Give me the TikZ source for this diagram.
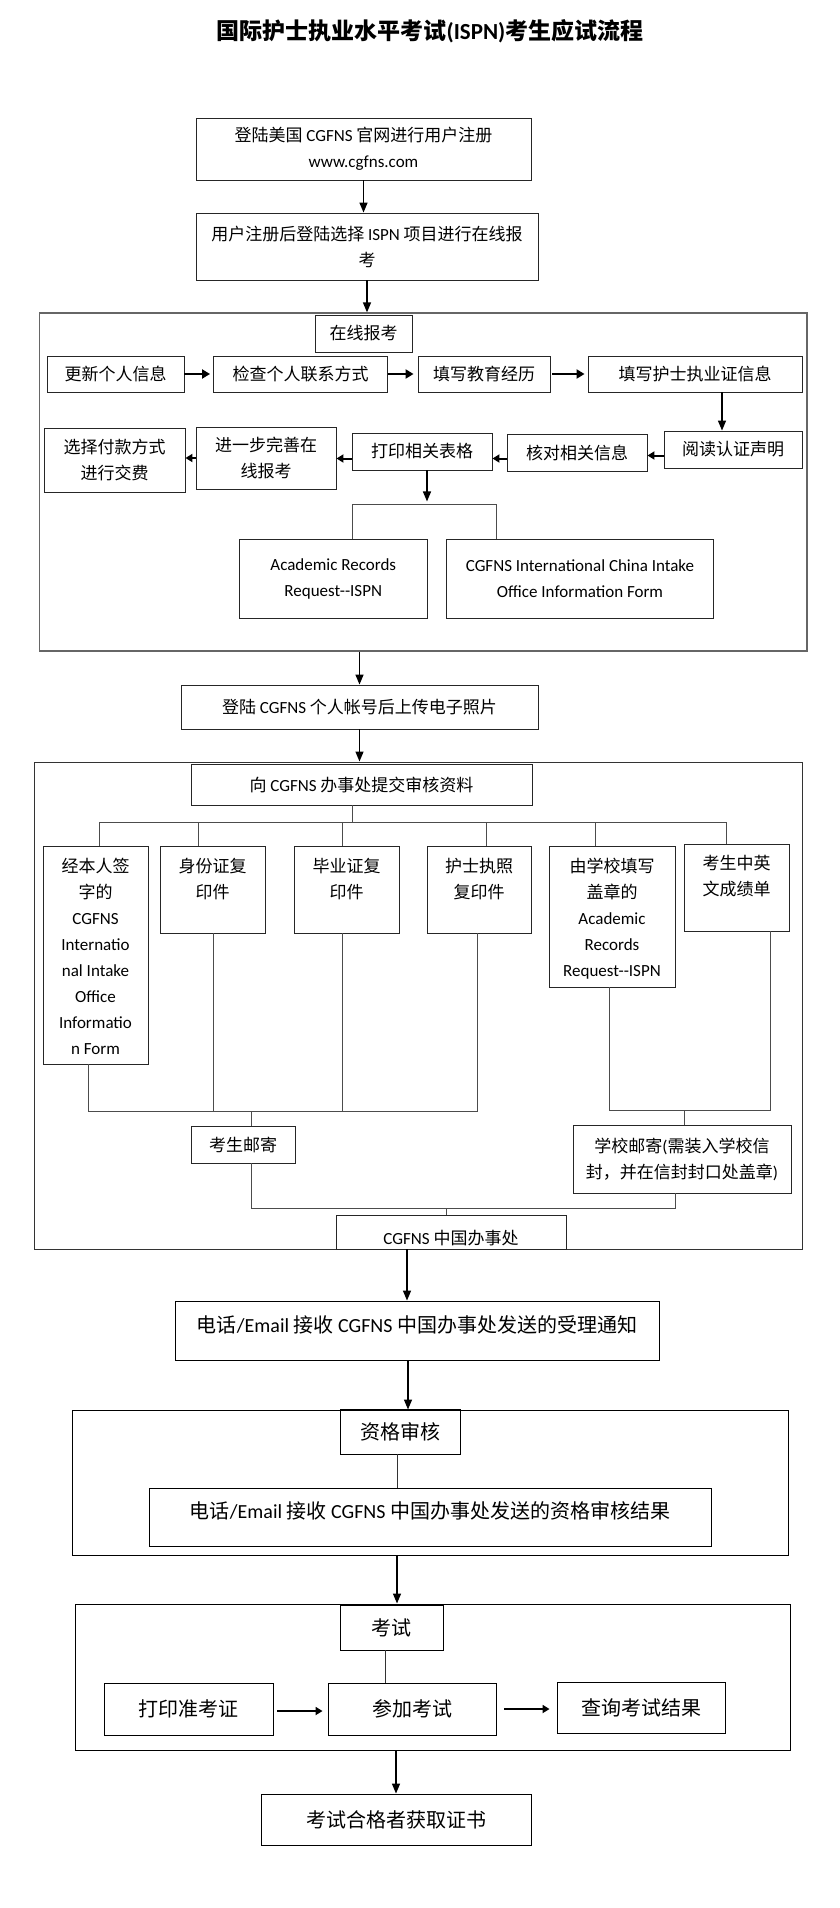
\documentclass[tikz,border=0pt]{standalone}
\usepackage{fontspec}
\setmainfont{Noto Sans CJK SC}
\newfontfamily\latf{Carlito}
\newcommand{\ct}[1]{{\latf #1}}
\usetikzlibrary{arrows.meta}
\tikzset{
  bx/.style={draw=black!85, line width=0.9pt, inner sep=0pt, align=center, font=\fontsize{17}{26}\selectfont},
  bbx/.style={bx, draw=black, font=\fontsize{20}{28}\selectfont},
  frm/.style={draw=black, line width=1pt, inner sep=0pt},
  lab/.style={inner sep=0pt, align=center, font=\fontsize{17}{26}\selectfont, anchor=north},
  arr/.style={draw=black, line width=1.4pt, -{Triangle[length=10pt,width=8pt]}},
  harr/.style={draw=black, line width=2.2pt, -{Triangle[length=8pt,width=9pt]}},
  marr/.style={draw=black, line width=2pt, -{Triangle[length=7pt,width=8pt]}},
  conn/.style={draw=black!70, line width=0.8pt},
}
\begin{document}
\begin{tikzpicture}[x=1pt,y=-1pt]
\useasboundingbox (0,0) rectangle (840,1908);
\fill[white] (0,0) rectangle (840,1908);

\node[font=\fontsize{23}{28}\selectfont\bfseries] (title) at (430,31) {国际护士执业水平考试\ct{(ISPN)}考生应试流程};

% top
\node[bx, minimum width=335, minimum height=62] (b1) at (363.5,149) {登陆美国 \ct{CGFNS} 官网进行用户注册\\\ct{www.cgfns.com}};
\node[bx, minimum width=342, minimum height=67] (b2) at (367,246.5) {用户注册后登陆选择 \ct{ISPN} 项目进行在线报\\考};
\draw[arr] (b1.south) -- (b1.south |- b2.north);

% frame A
\node[frm, draw=black!60, line width=1.2pt, minimum width=767.5, minimum height=338] (fA) at (423.25,482) {};
\draw[arr] (b2.south) -- (b2.south |- fA.north);
\node[bx, minimum width=97, minimum height=37] (hA) at (363.5,333.5) {在线报考};

\node[bx, minimum width=137, minimum height=36] (r1) at (115.5,374) {更新个人信息};
\node[bx, minimum width=174, minimum height=36] (r2) at (300.5,374) {检查个人联系方式};
\node[bx, minimum width=132, minimum height=36] (r3) at (484,374) {填写教育经历};
\node[bx, minimum width=214, minimum height=36] (r4) at (695,374) {填写护士执业证信息};
\draw[harr, shorten >=3pt] (r1.east) -- (r2.west);
\draw[harr, shorten >=4pt] (r2.east) -- (r3.west);
\draw[harr, shorten <=2pt, shorten >=3pt] (r3.east) -- (r4.west);

\node[bx, minimum width=138, minimum height=37] (r5) at (733,449.5) {阅读认证声明};
\node[bx, minimum width=140, minimum height=37] (r6) at (577,452.5) {核对相关信息};
\node[bx, minimum width=140, minimum height=37] (r7) at (422,451.5) {打印相关表格};
\node[bx, minimum width=140, minimum height=62] (r8) at (266,458) {进一步完善在\\线报考};
\node[bx, minimum width=141, minimum height=64] (r9) at (114.5,460) {选择付款方式\\进行交费};
\draw[arr] ([xshift=27pt]r4.south) -- ([xshift=27pt]r4.south |- r5.north);
\draw[marr] ([yshift=-3pt]r5.west |- r6.east) -- ([yshift=-3pt]r6.east);
\draw[marr] ([yshift=-6pt]r6.west) -- ([yshift=-6pt]r6.west -| r7.east);
\draw[marr] ([yshift=-7pt]r7.west) -- ([yshift=-7pt]r7.west -| r8.east);
\draw[marr] (r8.west) -- (r8.west -| r9.east);

\node[bx, minimum width=187.5, minimum height=79, font=\fontsize{17}{26}\latf] (a1) at (333.25,578.5) {Academic Records\\Request-\kern0pt-ISPN};
\node[bx, minimum width=267, minimum height=79, font=\fontsize{17}{26}\latf] (a2) at (580,578.5) {CGFNS International China Intake\\Office Information Form};
\draw[arr] ([xshift=5pt]r7.south) -- ++(0,31);
\draw[conn] ([xshift=19pt]a1.north) -- ++(0,-34) -| ([xshift=-84pt]a2.north);

% photo
\node[bx, minimum width=357, minimum height=44] (c1) at (359.5,707) {登陆 \ct{CGFNS} 个人帐号后上传电子照片};
\draw[arr] (c1.north |- fA.south) -- (c1.north);

% frame B
\node[frm, draw=black!80, minimum width=768, minimum height=487] (fB) at (418,1005.5) {};
\draw[arr] (c1.south) -- (c1.south |- fB.north);
\node[bx, minimum width=341, minimum height=41] (hB) at (361.5,784.5) {向 \ct{CGFNS} 办事处提交审核资料};

\node[bx, minimum width=105, minimum height=218, label={[lab, yshift=-12.5pt]north:{经本人签\\字的\\\ct{CGFNS}\\\ct{Internatio}\\\ct{nal Intake}\\\ct{Office}\\\ct{Informatio}\\\ct{n Form}}}] (d1) at (95.5,955) {};
\node[bx, minimum width=105, minimum height=87, label={[lab, yshift=-12.5pt]north:{身份证复\\印件}}] (d2) at (212.5,889.5) {};
\node[bx, minimum width=105, minimum height=87, label={[lab, yshift=-12.5pt]north:{毕业证复\\印件}}] (d3) at (346.5,889.5) {};
\node[bx, minimum width=104, minimum height=87, label={[lab, yshift=-12.5pt]north:{护士执照\\复印件}}] (d4) at (479,889.5) {};
\node[bx, minimum width=126, minimum height=141, label={[lab, yshift=-12.5pt]north:{由学校填写\\盖章的\\\ct{Academic}\\\ct{Records}\\\ct{Request-\kern0pt-ISPN}}}] (d5) at (612,916.5) {};
\node[bx, minimum width=105, minimum height=87, label={[lab, yshift=-11.5pt]north:{考生中英\\文成绩单}}] (d6) at (736.5,887.5) {};

\draw[conn] ([xshift=-9.5pt]hB.south) -- ++(0,18);
\draw[conn] ([xshift=3.5pt]d1.north) -- ++(0,-23) -| ([xshift=-10.5pt]d6.north);
\draw[conn] ([xshift=-14.5pt]d2.north) -- ++(0,-23);
\draw[conn] ([xshift=-4.5pt]d3.north) -- ++(0,-23);
\draw[conn] ([xshift=7pt]d4.north) -- ++(0,-23);
\draw[conn] ([xshift=-17pt]d5.north) -- ++(0,-23);

\node[bx, minimum width=104, minimum height=37] (e1) at (243,1144.5) {考生邮寄};
\node[bx, minimum width=218, minimum height=68] (e2) at (682,1159) {学校邮寄\ct{(}需装入学校信\\封，并在信封封口处盖章\ct{)}};
\coordinate (busL) at (251,1111);
\coordinate (busR) at (684,1110);
\coordinate (busM) at (446,1208);
\draw[conn] ([xshift=-7.5pt]d1.south) |- (busL);
\draw[conn] ([xshift=-2pt]d4.south) |- (busL);
\draw[conn] ([xshift=1pt]d2.south) -- ([xshift=1pt]d2.south |- busL);
\draw[conn] ([xshift=-4.5pt]d3.south) -- ([xshift=-4.5pt]d3.south |- busL);
\draw[conn] (busL) -- (busL |- e1.north);
\draw[conn] ([xshift=-3pt]d5.south) |- (busR);
\draw[conn] ([xshift=33.5pt]d6.south) |- (busR);
\draw[conn] (busR) -- (busR |- e2.north);

\node[bx, minimum width=230, minimum height=34, text height=28pt, text depth=3pt] (f1) at (451,1232) {\ct{CGFNS} 中国办事处};
\draw[conn] ([xshift=8pt]e1.south) |- (busM);
\draw[conn] ([xshift=-7pt]e2.south) |- (busM);
\draw[conn] (busM) -- (busM |- f1.north);

% notice
\node[bbx, minimum width=484, minimum height=59, text height=9pt, text depth=5pt] (g1) at (417,1330.5) {电话\ct{/Email} 接收 \ct{CGFNS} 中国办事处发送的受理通知};
\draw[arr] ([xshift=-44pt]f1.south) -- ([xshift=-44pt]f1.south |- g1.north);

% frame C
\node[frm, minimum width=716, minimum height=145] (fC) at (430,1482.5) {};
\draw[arr] ([xshift=-9pt]g1.south) -- ([xshift=-9pt]g1.south |- fC.north);
\node[bbx, minimum width=120, minimum height=45] (g2) at (400,1431.5) {资格审核};
\node[bbx, minimum width=562, minimum height=58, text height=8pt, text depth=5pt] (g3) at (430,1517) {电话\ct{/Email} 接收 \ct{CGFNS} 中国办事处发送的资格审核结果};
\draw[conn, draw=black!80] ([xshift=-3pt]g2.south) -- ([xshift=-3pt]g2.south |- g3.north);

% frame D
\node[frm, minimum width=715, minimum height=146] (fD) at (432.5,1677) {};
\draw[arr] ([xshift=-3pt]g2.south |- fC.south) -- ([xshift=-3pt]g2.south |- fD.north);
\node[bbx, minimum width=103, minimum height=45] (h1) at (391.5,1627.5) {考试};
\node[bbx, minimum width=169, minimum height=52] (h2) at (188.5,1709) {打印准考证};
\node[bbx, minimum width=168, minimum height=52] (h3) at (412,1709) {参加考试};
\node[bbx, minimum width=168, minimum height=51] (h4) at (641,1707.5) {查询考试结果};
\draw[conn, draw=black!80] ([xshift=-6.5pt]h1.south) -- ([xshift=-6.5pt]h1.south |- h3.north);
\draw[marr, shorten <=4pt, shorten >=5pt] ([yshift=-2pt]h2.east) -- ([yshift=-2pt]h2.east -| h3.west);
\draw[marr, shorten <=8pt, shorten >=7pt] (h3.east) -- (h3.east -| h4.west);

\node[bbx, minimum width=270, minimum height=51] (h5) at (396,1819.5) {考试合格者获取证书};
\draw[arr] (h5.north |- fD.south) -- (h5.north);
\end{tikzpicture}
\end{document}
